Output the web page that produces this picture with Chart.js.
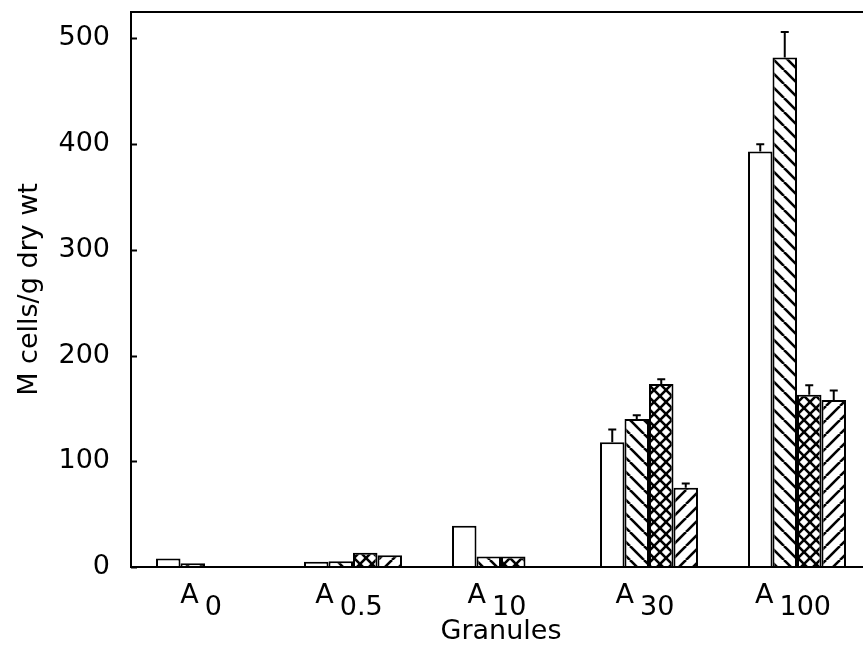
<!DOCTYPE html>
<html>
<head>
<meta charset="utf-8">
<script src="https://cdn.jsdelivr.net/npm/chart.js@4.4.0/dist/chart.umd.min.js"></script>
<style>
  html, body { margin: 0; padding: 0; background: #fff; overflow: hidden; }
</style>
</head>
<body>
<canvas id="chart" width="880" height="648"></canvas>
<script>
// granule sizes (drawn as A with subscript)
const granules = ['0', '0.5', '10', '30', '100'];

// M cells / g dry wt, four treatments per granule size
const openVals  = [8, 5, 39, 118, 393];
const backVals  = [3.5, 5.5, 10, 140, 482];
const crossVals = [1, 13.5, 10, 173, 163];
const fwdVals   = [null, 11, null, 75, 158];

// upper error bars
const openErr  = [0, 0, 0, 12, 7];
const backErr  = [0, 0, 0, 3.5, 24];
const crossErr = [0, 0, 0, 4.5, 9];
const fwdErr   = [0, 0, 0, 4, 9];

const yTicks = [0, 100, 200, 300, 400, 500];

const FONT = 'DejaVu Sans';

function hatch(kind, size, lw) {
    const c = document.createElement('canvas');
    c.width = size;
    c.height = size;
    const g = c.getContext('2d');
    g.fillStyle = '#fff';
    g.fillRect(0, 0, size, size);
    g.strokeStyle = '#000';
    g.lineWidth = lw;
    for (let k = -1; k <= 1; k++) {
        const o = k * size;
        if (kind === 'back' || kind === 'cross') {
            g.beginPath();
            g.moveTo(o, 0);
            g.lineTo(o + size, size);
            g.stroke();
        }
        if (kind === 'fwd' || kind === 'cross') {
            g.beginPath();
            g.moveTo(o, size);
            g.lineTo(o + size, 0);
            g.stroke();
        }
    }
    return g.createPattern(c, 'repeat');
}

const errors = [openErr, backErr, crossErr, fwdErr];

const errorBars = {
    id: 'errorBars',
    afterDatasetsDraw(chart) {
        const ctx = chart.ctx;
        const y = chart.scales.y;
        ctx.save();
        ctx.strokeStyle = '#000';
        ctx.lineWidth = 2;
        chart.data.datasets.forEach((ds, i) => {
            const meta = chart.getDatasetMeta(i);
            meta.data.forEach((bar, j) => {
                const e = errors[i][j];
                const v = ds.data[j];
                if (!e || v == null) return;
                const top = y.getPixelForValue(v + e);
                ctx.beginPath();
                ctx.moveTo(bar.x, bar.y);
                ctx.lineTo(bar.x, top);
                ctx.moveTo(bar.x - 4, top);
                ctx.lineTo(bar.x + 4, top);
                ctx.stroke();
            });
        });
        ctx.restore();
    }
};

const frameAndLabels = {
    id: 'frameAndLabels',
    afterDraw(chart) {
        const ctx = chart.ctx;
        const a = chart.chartArea;
        const x = chart.scales.x;
        const y = chart.scales.y;
        ctx.save();
        ctx.strokeStyle = '#000';
        ctx.lineWidth = 2;
        ctx.strokeRect(a.left, a.top, a.right - a.left, a.bottom - a.top);
        // inward ticks on the y axis
        yTicks.forEach(v => {
            const py = Math.round(y.getPixelForValue(v)) + 0.5;
            ctx.beginPath();
            ctx.moveTo(a.left, py);
            ctx.lineTo(a.left + 6, py);
            ctx.stroke();
        });
        // category labels A with subscript
        ctx.fillStyle = '#000';
        ctx.textBaseline = 'alphabetic';
        ctx.textAlign = 'left';
        ctx.font = '27px "' + FONT + '"';
        granules.forEach((sub, i) => {
            const cx = x.getPixelForValue(i) - 4;
            const wA = ctx.measureText('A').width;
            const wS = ctx.measureText(sub).width;
            const gap = 6;
            const start = cx - (wA + gap + wS) / 2;
            ctx.fillText('A', start, 603);
            ctx.fillText(sub, start + wA + gap, 615);
        });
        ctx.restore();
    }
};

const ctx = document.getElementById('chart').getContext('2d');

new Chart(ctx, {
    type: 'bar',
    data: {
        labels: granules.map(g => 'A' + g),
        datasets: [
            { data: openVals, backgroundColor: '#fff' },
            { data: backVals, backgroundColor: hatch('back', 14, 2.6) },
            { data: crossVals, backgroundColor: hatch('cross', 12, 2.6) },
            { data: fwdVals, backgroundColor: hatch('fwd', 14, 2.6) }
        ].map(d => Object.assign(d, {
            borderColor: '#000',
            borderWidth: 2,
            borderSkipped: 'bottom',
            barPercentage: 1,
            categoryPercentage: 0.662
        }))
    },
    options: {
        responsive: false,
        animation: false,
        devicePixelRatio: 1,
        layout: { padding: { top: 12, right: 9, left: 0, bottom: 0 } },
        plugins: {
            legend: { display: false },
            tooltip: { enabled: false }
        },
        scales: {
            x: {
                grid: { display: false },
                border: { display: false },
                ticks: { display: false },
                title: {
                    display: true,
                    text: 'Granules',
                    color: '#000',
                    font: { family: FONT, size: 27 },
                    padding: { top: 0, bottom: 0 }
                },
                afterFit(scale) {
                    scale.height = 81;
                    scale.paddingLeft = 0;
                    scale.paddingRight = 0;
                }
            },
            y: {
                min: 0,
                max: 525,
                grid: { display: false, drawTicks: false },
                border: { display: false },
                ticks: {
                    stepSize: 100,
                    includeBounds: false,
                    padding: 21,
                    color: '#000',
                    font: { family: FONT, size: 27 }
                },
                title: {
                    display: true,
                    text: 'M cells/g dry wt',
                    color: '#000',
                    font: { family: FONT, size: 27 },
                    padding: { top: 14, bottom: 0 }
                },
                afterFit(scale) {
                    scale.width = 131;
                    scale.paddingTop = 0;
                    scale.paddingBottom = 0;
                }
            }
        }
    },
    plugins: [errorBars, frameAndLabels]
});
</script>
</body>
</html>
